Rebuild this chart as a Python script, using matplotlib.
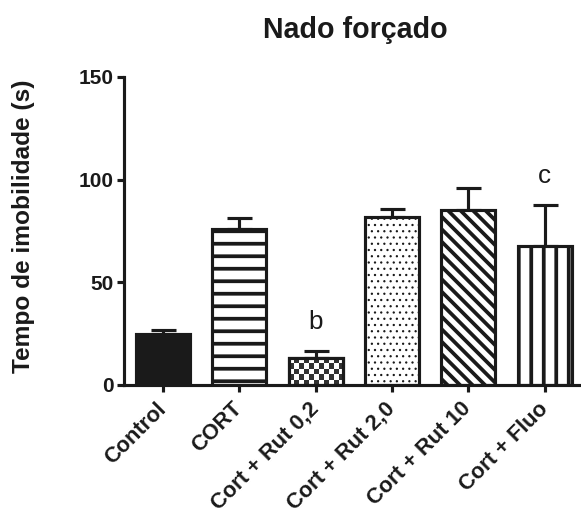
import numpy as np
import matplotlib
matplotlib.use('Agg')
import matplotlib.pyplot as plt

# tempo de imobilidade (s), nado forçado
groups = ['Control', 'CORT', 'Cort + Rut 0,2', 'Cort + Rut 2,0', 'Cort + Rut 10', 'Cort + Fluo']
means = [24.7, 76.0, 13.1, 82.0, 85.2, 67.9]
sem = [2.1, 5.2, 3.4, 3.7, 10.6, 19.8]
letters = ['', '', 'b', '', '', 'c']
hatches = [None, '-', 'checker', '..', '\\\\', '|']

plt.rcParams['font.family'] = ['Liberation Sans', 'DejaVu Sans']
plt.rcParams['font.weight'] = 'bold'

ink = '#1a1a1a'
dpi = 75
fig = plt.figure(figsize=(581 / dpi, 516 / dpi), dpi=dpi)
ax = fig.add_axes([124 / 581, 131 / 516, 455 / 581, 308 / 516])

x = np.arange(len(groups))
ax.set_xlim(-0.51, 5.45)
ax.set_ylim(0, 150)

for i in range(len(groups)):
    h = hatches[i]
    face = ink if h is None else 'white'
    hh = None if h in (None, 'checker') else h
    lw_h = 1.0 if h == '..' else 3.6
    with plt.rc_context({'hatch.linewidth': lw_h, 'hatch.color': ink}):
        b = ax.bar(x[i], means[i], width=0.71, color=face, edgecolor=ink,
                   linewidth=3, hatch=hh, zorder=2)[0]
    if h == 'checker':
        # checkerboard fill clipped to the bar
        fig.canvas.draw()
        bb = b.get_window_extent()
        nc = max(1, int(round(bb.width / 5)))
        nr = max(1, int(round(bb.height / 5)))
        cb = np.indices((nr, nc)).sum(axis=0) % 2
        im = ax.imshow(cb, cmap='gray_r', vmin=0, vmax=1.25, interpolation='nearest',
                       extent=[b.get_x(), b.get_x() + b.get_width(), 0, b.get_height()],
                       aspect='auto', zorder=2.1)
        im.set_clip_path(b)
        ax.bar(x[i], means[i], width=0.71, color='none', edgecolor=ink,
               linewidth=3, zorder=2.2)

ax.errorbar(x, means, yerr=[np.zeros(len(sem)), sem], fmt='none', ecolor=ink,
            elinewidth=3, capsize=12, capthick=3, zorder=1.9)

for i, t in enumerate(letters):
    if t:
        ax.annotate(t, (x[i], means[i] + sem[i]), xytext=(0, 16), textcoords='offset points',
                    ha='center', va='bottom', fontsize=25, fontweight='normal', color=ink)

ax.spines['top'].set_visible(False)
ax.spines['right'].set_visible(False)
ax.spines['left'].set_linewidth(3)
ax.spines['bottom'].set_linewidth(3)
ax.spines['left'].set_color(ink)
ax.spines['bottom'].set_color(ink)

ax.set_yticks([0, 50, 100, 150])
ax.set_xticks(x)
ax.set_xticklabels(groups, rotation=45, ha='right', va='center', rotation_mode='anchor',
                   fontsize=21)
ax.tick_params(axis='both', length=7, width=3, color=ink, labelcolor=ink)
ax.tick_params(axis='y', pad=3, labelsize=20)
ax.tick_params(axis='x', pad=13)

ax.set_ylabel('Tempo de imobilidade (s)', fontsize=23.5, fontweight='bold', color=ink)
ax.yaxis.set_label_coords(-0.22, 0.516)
ax.yaxis.label.set_va('center')

fig.text(355 / 581, 1 - 30 / 516, 'Nado forçado', ha='center', va='center',
         fontsize=27.5, color=ink)

fig.savefig('out.png', dpi=dpi)
